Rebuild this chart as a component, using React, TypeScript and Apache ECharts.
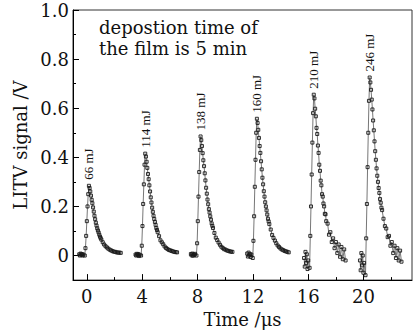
import React, { useEffect, useRef } from "react";
import * as echarts from "echarts";

// Relative time (µs) of each sample with respect to the pulse peak
const relTime = [
  -0.7, -0.65, -0.6, -0.55, -0.5, -0.45, -0.4,
  -0.3, -0.25, -0.2, -0.15, -0.1, -0.05,
  0,
  0.05, 0.1, 0.15, 0.2, 0.25, 0.3, 0.35, 0.4, 0.45, 0.5,
  0.55, 0.6, 0.65, 0.7, 0.75, 0.8, 0.85, 0.9, 1.0, 1.1,
  1.2, 1.3, 1.4, 1.5, 1.6, 1.7, 1.8, 1.9, 2.0, 2.1, 2.2, 2.3,
];

// Peak time (µs) of each pulse
const peakTimes = [0.15, 4.22, 8.22, 12.29, 16.4, 20.44];

const energyLabels = ["66 mJ", "114 mJ", "138 mJ", "160 mJ", "210 mJ", "246 mJ"];

// LITV signal (V) of each pulse
const pulse66 = [
  0.005, 0.0, 0.008, 0.003, 0.006, 0.0, 0.004,
  0.0, 0.03, 0.08, 0.14, 0.2, 0.25,
  0.284,
  0.275, 0.261, 0.244, 0.227, 0.213, 0.196, 0.179, 0.162, 0.148, 0.134,
  0.122, 0.111, 0.102, 0.094, 0.085, 0.077, 0.071, 0.065, 0.054, 0.045,
  0.038, 0.033, 0.028, 0.024, 0.021, 0.018, 0.016, 0.015, 0.013, 0.012, 0.012, 0.011,
];
const pulse114 = [
  0.004, 0.0, 0.007, 0.002, 0.006, -0.002, 0.003,
  0.0, 0.04, 0.12, 0.21, 0.29, 0.37,
  0.415,
  0.403, 0.382, 0.357, 0.332, 0.311, 0.286, 0.261, 0.237, 0.216, 0.195,
  0.178, 0.162, 0.149, 0.137, 0.125, 0.112, 0.104, 0.095, 0.079, 0.062,
  0.054, 0.046, 0.037, 0.031, 0.027, 0.023, 0.021, 0.019, 0.017, 0.015, 0.014, 0.013,
];
const pulse138 = [
  0.006, 0.001, 0.008, -0.001, 0.005, 0.002, 0.007,
  0.0, 0.05, 0.14, 0.24, 0.34, 0.43,
  0.485,
  0.47, 0.446, 0.417, 0.388, 0.364, 0.335, 0.306, 0.276, 0.252, 0.228,
  0.209, 0.189, 0.175, 0.16, 0.146, 0.131, 0.121, 0.112, 0.092, 0.073,
  0.063, 0.053, 0.044, 0.036, 0.031, 0.026, 0.024, 0.021, 0.019, 0.017, 0.016, 0.015,
];
const pulse160 = [
  0.008, -0.004, 0.012, 0.0, 0.006, -0.006, 0.004,
  -0.01, 0.06, 0.16, 0.28, 0.39, 0.5,
  0.557,
  0.54, 0.512, 0.479, 0.446, 0.418, 0.384, 0.351, 0.317, 0.29, 0.262,
  0.24, 0.217, 0.2, 0.184, 0.167, 0.15, 0.139, 0.128, 0.106, 0.084,
  0.072, 0.061, 0.05, 0.041, 0.035, 0.029, 0.025, 0.022, 0.019, 0.017, 0.015, 0.013,
];
const pulse210 = [
  -0.01, -0.045, 0.015, -0.03, 0.005, -0.055, -0.02,
  -0.05, 0.08, 0.2, 0.33, 0.46, 0.58,
  0.655,
  0.64, 0.598, 0.567, 0.52, 0.495, 0.448, 0.418, 0.37, 0.345, 0.305,
  0.286, 0.25, 0.24, 0.212, 0.2, 0.17, 0.168, 0.14, 0.13, 0.085,
  0.095, 0.055, 0.07, 0.03, 0.055, 0.01, 0.045, -0.005, 0.035, -0.015, 0.025, -0.02,
];
const pulse246 = [
  -0.02, -0.06, 0.01, -0.04, 0.0, -0.07, -0.03,
  -0.08, 0.07, 0.21, 0.36, 0.5, 0.63,
  0.725,
  0.705, 0.675, 0.635, 0.595, 0.55, 0.51, 0.465, 0.425, 0.39, 0.355,
  0.325, 0.3, 0.275, 0.255, 0.23, 0.215, 0.195, 0.185, 0.15, 0.12,
  0.11, 0.075, 0.08, 0.04, 0.055, 0.01, 0.04, -0.01, 0.03, -0.02, 0.02, -0.025,
];

const pulses = [pulse66, pulse114, pulse138, pulse160, pulse210, pulse246];

const xMajor = [0, 4, 8, 12, 16, 20];
const xMinor = [2, 6, 10, 14, 18, 22];
const yMajor = [0, 0.2, 0.4, 0.6, 0.8, 1.0];
const yMinor = [0.1, 0.3, 0.5, 0.7, 0.9];

const FONT = "DejaVu Serif";

export default function App() {
  const ref = useRef<HTMLDivElement>(null);

  useEffect(() => {
    if (!ref.current) return;
    const chart = echarts.init(ref.current, null, { renderer: "svg" });

    const series = pulses.map((vals, i) => ({
      type: "line",
      data: relTime.map((t, j) => [+(peakTimes[i] + t).toFixed(3), vals[j]]),
      symbol: "rect",
      symbolSize: 3,
      showSymbol: true,
      itemStyle: { color: "rgba(255,255,255,0)", borderColor: "#1a1a1a", borderWidth: 0.9 },
      lineStyle: { color: "#777", width: 1 },
      xAxisIndex: 0,
      yAxisIndex: 0,
      silent: true,
    }));

    const axisText = { fontFamily: FONT, fontSize: 18, color: "#111" };

    chart.setOption({
      animation: false,
      backgroundColor: "#fff",
      grid: {
        left: 73,
        right: 4,
        top: 10,
        bottom: 50,
        show: true,
        borderColor: "#333",
        borderWidth: 1,
      },
      xAxis: [
        {
          type: "value",
          min: -1,
          max: 23.5,
          position: "bottom",
          axisLine: { onZero: false, lineStyle: { color: "#000", width: 1 } },
          axisTick: {
            inside: true,
            length: 6,
            customValues: xMajor,
            lineStyle: { color: "#000" },
          },
          axisLabel: { customValues: xMajor, margin: 7, ...axisText },
          splitLine: { show: false },
          name: "Time /μs",
          nameLocation: "middle",
          nameGap: 28,
          nameTextStyle: axisText,
        },
        {
          type: "value",
          min: -1,
          max: 23.5,
          position: "bottom",
          axisLine: { show: false, onZero: false },
          axisTick: {
            inside: true,
            length: 3,
            customValues: xMinor,
            lineStyle: { color: "#000" },
          },
          axisLabel: { show: false },
          splitLine: { show: false },
        },
      ],
      yAxis: [
        {
          type: "value",
          min: -0.1,
          max: 1.0,
          position: "left",
          axisLine: { show: true, onZero: false, lineStyle: { color: "#000", width: 1 } },
          axisTick: {
            show: true,
            inside: true,
            length: 6,
            customValues: yMajor,
            lineStyle: { color: "#000" },
          },
          axisLabel: {
            customValues: yMajor,
            margin: 4,
            formatter: (v: number) => (v === 0 ? "0" : v.toFixed(1)),
            ...axisText,
          },
          splitLine: { show: false },
          name: "LITV signal /V",
          nameLocation: "middle",
          nameGap: 42,
          nameTextStyle: axisText,
        },
        {
          type: "value",
          min: -0.1,
          max: 1.0,
          position: "left",
          axisLine: { show: false, onZero: false },
          axisTick: {
            show: true,
            inside: true,
            length: 3,
            customValues: yMinor,
            lineStyle: { color: "#000" },
          },
          axisLabel: { show: false },
          splitLine: { show: false },
        },
      ],
      series,
    });

    const labelGraphics = pulses.map((vals, i) => {
      const peak = Math.max(...vals);
      const p = chart.convertToPixel({ xAxisIndex: 0, yAxisIndex: 0 }, [peakTimes[i], peak]) as number[];
      return {
        type: "text",
        x: p[0],
        y: p[1] - 6,
        rotation: Math.PI / 2,
        silent: true,
        style: {
          text: energyLabels[i],
          fontFamily: "Liberation Serif",
          fontSize: 13,
          fill: "#111",
          align: "left",
          verticalAlign: "middle",
        },
      };
    });

    chart.setOption({
      graphic: [
        {
          type: "text",
          x: 99,
          y: 17,
          silent: true,
          style: {
            text: "depostion time of\nthe film is 5 min",
            fontFamily: FONT,
            fontSize: 18,
            lineHeight: 21,
            fill: "#111",
            align: "left",
            verticalAlign: "top",
          },
        },
        ...labelGraphics,
      ],
    });

    return () => chart.dispose();
  }, []);

  return (
    <div
      ref={ref}
      style={{ position: "fixed", left: 0, top: 0, width: 416, height: 333, background: "#fff" }}
    />
  );
}
